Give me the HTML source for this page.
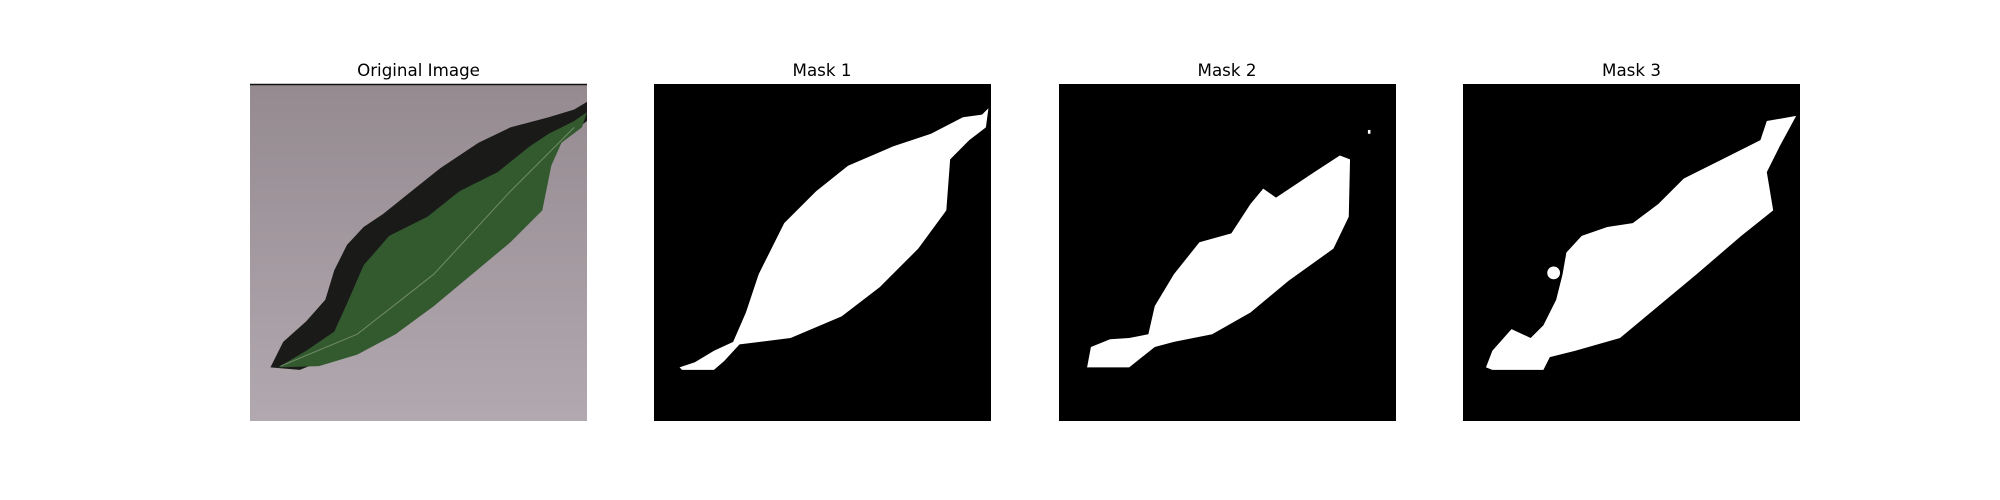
<!DOCTYPE html>
<html><head><meta charset="utf-8"><style>
html,body{margin:0;padding:0;background:#fff;}
svg{display:block;}
text{font-family:"DejaVu Sans","Liberation Sans",sans-serif;font-size:16.7px;fill:#000;}
</style></head><body>
<svg width="2000" height="500" viewBox="0 0 2000 500">
<defs>
<linearGradient id="bg" x1="0" y1="0" x2="0" y2="1"><stop offset="0" stop-color="#948a90"/><stop offset="1" stop-color="#b2a8af"/></linearGradient>
</defs>

<text x="418.5" y="76" text-anchor="middle">Original Image</text>
<g>
<rect x="250" y="84" width="337" height="337" fill="url(#bg)"/>
<line x1="250" y1="84.5" x2="587" y2="84.5" stroke="#111" stroke-width="1.5"/>
<g transform="translate(250,84) scale(1.2765) translate(-196,-66)">
<path fill="#1a1a18" d="M212,288 L222,268 L240,252 L255,235 L262,212 L272,192 L285,178 L300,168 L320,152 L345,132 L375,112 L400,100 L430,92 L450,86 L460,80 L460,95 L440,110 L420,128 L395,150 L370,170 L340,195 L310,225 L285,255 L260,280 L235,290 Z"/>
<path fill="#33592f" d="M218,288 L240,275 L262,260 L272,238 L285,208 L305,185 L335,170 L360,150 L390,135 L415,115 L430,105 L450,95 L460,88 L456,100 L440,112 L432,130 L425,165 L400,190 L370,215 L340,240 L310,262 L280,278 L250,287 Z"/>
<path fill="none" stroke="#6f8a68" stroke-width="0.8" d="M220,287 L280,262 L340,215 L400,150 L450,100"/>
</g>
</g>

<text x="822" y="76" text-anchor="middle">Mask 1</text>
<g>
<rect x="654" y="84" width="337" height="337" fill="#000"/>
<g transform="translate(654,84) scale(1.2765) translate(-513,-66)">
<path fill="#fff" d="M533,288 L545,284 L560,275 L575,268 L585,245 L595,215 L615,175 L640,150 L665,130 L700,115 L730,105 L755,92 L770,90 L775,85 L773,100 L760,110 L745,125 L742,165 L720,195 L690,225 L660,248 L620,265 L580,270 L568,283 L560,290 L535,290 Z"/>
</g>
</g>

<text x="1227" y="76" text-anchor="middle">Mask 2</text>
<g>
<rect x="1059" y="84" width="337" height="337" fill="#000"/>
<g transform="translate(1059,84) scale(1.2765) translate(-830,-66)">
<path fill="#fff" d="M852,288 L855,272 L870,266 L885,265 L900,262 L905,240 L920,215 L940,190 L965,183 L980,160 L990,148 L1000,155 L1030,135 L1050,122 L1058,125 L1057,170 L1045,195 L1010,220 L980,245 L950,262 L920,268 L905,272 L885,288 Z"/>
<rect x="1072" y="102" width="2" height="3" fill="#fff"/>
</g>
</g>

<text x="1631.5" y="76" text-anchor="middle">Mask 3</text>
<g>
<rect x="1463" y="84" width="337" height="337" fill="#000"/>
<g transform="translate(1463,84) scale(1.2765) translate(-1147,-66)">
<path fill="#fff" d="M1165,288 L1170,275 L1185,258 L1200,265 L1210,255 L1220,235 L1225,215 L1228,198 L1240,185 L1260,178 L1280,175 L1300,160 L1320,140 L1350,125 L1380,110 L1385,95 L1408,91 L1395,115 L1385,135 L1390,165 L1365,185 L1330,215 L1300,240 L1270,265 L1235,275 L1215,280 L1210,290 L1170,290 Z"/>
<circle cx="1218" cy="214" r="5" fill="#fff"/>
</g>
</g>
</svg>
</body></html>
